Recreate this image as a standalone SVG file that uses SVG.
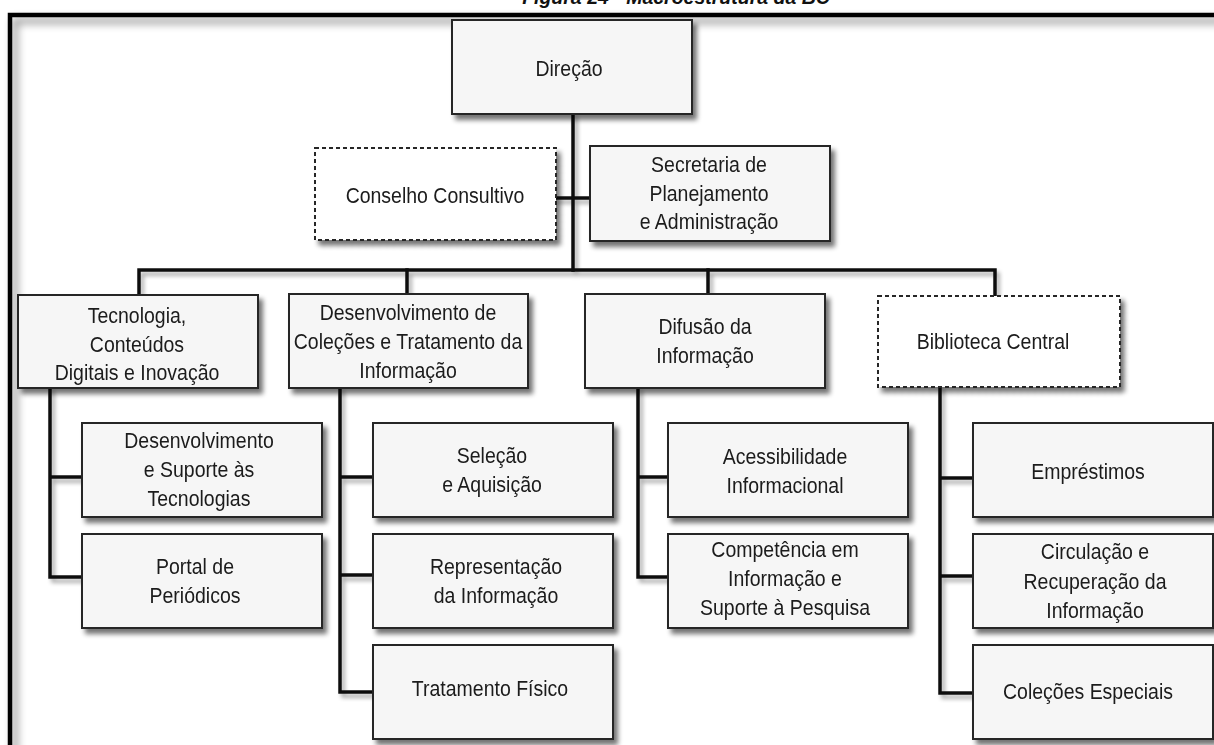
<svg xmlns="http://www.w3.org/2000/svg" width="1214" height="745" viewBox="0 0 1214 745">
  <defs>
    <filter id="shadow" x="-10%" y="-10%" width="130%" height="140%">
      <feGaussianBlur in="SourceAlpha" stdDeviation="2.5"/>
      <feOffset dx="4" dy="5" result="b"/>
      <feComponentTransfer><feFuncA type="linear" slope="0.55"/></feComponentTransfer>
      <feMerge><feMergeNode/><feMergeNode in="SourceGraphic"/></feMerge>
    </filter>
    <filter id="lineShadow" x="-5%" y="-5%" width="110%" height="110%">
      <feGaussianBlur in="SourceAlpha" stdDeviation="2"/>
      <feOffset dx="3" dy="4" result="b"/>
      <feComponentTransfer><feFuncA type="linear" slope="0.35"/></feComponentTransfer>
      <feMerge><feMergeNode/><feMergeNode in="SourceGraphic"/></feMerge>
    </filter>
    <filter id="frameShadow" x="-5%" y="-5%" width="110%" height="110%">
      <feGaussianBlur in="SourceAlpha" stdDeviation="4"/>
      <feOffset dx="5" dy="6" result="b"/>
      <feComponentTransfer><feFuncA type="linear" slope="0.5"/></feComponentTransfer>
      <feMerge><feMergeNode/><feMergeNode in="SourceGraphic"/></feMerge>
    </filter>
  </defs>
  <style>
    .box { fill: #f6f6f6; stroke: #262626; stroke-width: 2; }
    .dash { fill: #ffffff; stroke: #262626; stroke-width: 2; stroke-dasharray: 4 3; }
    .lbl { font-family: "Liberation Sans", Arial, sans-serif; font-size: 19.5px; fill: #1a1a1a; text-anchor: middle;
           transform-box: fill-box; transform-origin: center; transform: scaleY(1.12); }
    .conn { fill: none; stroke: #111; stroke-width: 3.5; stroke-linejoin: miter; stroke-linecap: square; }
    .title { font-family: "Liberation Sans", Arial, sans-serif; font-size: 19.5px; font-weight: bold; font-style: italic; fill: #111; text-anchor: middle; }
  </style>

  <rect width="1214" height="745" fill="#ffffff"/>

  <!-- caption, partly above the page edge -->
  <text class="title" x="676" y="4">Figura 24 - Macroestrutura da BC</text>

  <!-- outer frame -->
  <path d="M10,770 V15 H1240" fill="none" stroke="#000" stroke-width="4.5" filter="url(#frameShadow)"/>

  <!-- connectors -->
  <g id="connectors" class="conn" filter="url(#lineShadow)">
    <path d="M573,114 V270"/>
    <path d="M556,198 H590"/>
    <path d="M139,295 V270 H995 V296"/>
    <path d="M407,270 V293"/>
    <path d="M708,270 V293"/>
    <path d="M50,388 V577 H82 M50,477 H82"/>
    <path d="M340,388 V692 H373 M340,477 H373 M340,575 H373"/>
    <path d="M638,388 V577 H668 M638,477 H668"/>
    <path d="M940,387 V693 H973 M940,478 H973 M940,576 H973"/>
  </g>

  <!-- top level -->
  <g id="direcao" filter="url(#shadow)">
    <rect class="box" x="452" y="20" width="240" height="94"/>
    <text class="lbl" x="569" y="75">Direção</text>
  </g>
  <g id="conselho" filter="url(#shadow)">
    <rect class="dash" x="315" y="148" width="241" height="92"/>
    <text class="lbl" x="435" y="202">Conselho Consultivo</text>
  </g>
  <g id="secretaria" filter="url(#shadow)">
    <rect class="box" x="590" y="146" width="240" height="95"/>
    <text class="lbl" x="709" y="171">Secretaria de</text>
    <text class="lbl" x="709" y="200">Planejamento</text>
    <text class="lbl" x="709" y="228">e Administração</text>
  </g>

  <!-- departments -->
  <g id="tecnologia" filter="url(#shadow)">
    <rect class="box" x="18" y="295" width="240" height="93"/>
    <text class="lbl" x="137" y="322">Tecnologia,</text>
    <text class="lbl" x="137" y="351">Conteúdos</text>
    <text class="lbl" x="137" y="379">Digitais e Inovação</text>
  </g>
  <g id="desenvolvimento" filter="url(#shadow)">
    <rect class="box" x="289" y="294" width="239" height="94"/>
    <text class="lbl" x="408" y="319">Desenvolvimento de</text>
    <text class="lbl" x="408" y="348">Coleções e Tratamento da</text>
    <text class="lbl" x="408" y="377">Informação</text>
  </g>
  <g id="difusao" filter="url(#shadow)">
    <rect class="box" x="585" y="294" width="240" height="94"/>
    <text class="lbl" x="705" y="333">Difusão da</text>
    <text class="lbl" x="705" y="362">Informação</text>
  </g>
  <g id="biblioteca" filter="url(#shadow)">
    <rect class="dash" x="878" y="296" width="242" height="91"/>
    <text class="lbl" x="993" y="348">Biblioteca Central</text>
  </g>

  <!-- units: Tecnologia -->
  <g id="suporte" filter="url(#shadow)">
    <rect class="box" x="82" y="423" width="240" height="94"/>
    <text class="lbl" x="199" y="447">Desenvolvimento</text>
    <text class="lbl" x="199" y="476">e Suporte às</text>
    <text class="lbl" x="199" y="505">Tecnologias</text>
  </g>
  <g id="portal" filter="url(#shadow)">
    <rect class="box" x="82" y="534" width="240" height="94"/>
    <text class="lbl" x="195" y="573">Portal de</text>
    <text class="lbl" x="195" y="602">Periódicos</text>
  </g>

  <!-- units: Desenvolvimento de Coleções -->
  <g id="selecao" filter="url(#shadow)">
    <rect class="box" x="373" y="423" width="240" height="94"/>
    <text class="lbl" x="492" y="462">Seleção</text>
    <text class="lbl" x="492" y="491">e Aquisição</text>
  </g>
  <g id="representacao" filter="url(#shadow)">
    <rect class="box" x="373" y="534" width="240" height="94"/>
    <text class="lbl" x="496" y="573">Representação</text>
    <text class="lbl" x="496" y="602">da Informação</text>
  </g>
  <g id="tratamento" filter="url(#shadow)">
    <rect class="box" x="373" y="645" width="240" height="94"/>
    <text class="lbl" x="490" y="695">Tratamento Físico</text>
  </g>

  <!-- units: Difusão da Informação -->
  <g id="acessibilidade" filter="url(#shadow)">
    <rect class="box" x="668" y="423" width="240" height="94"/>
    <text class="lbl" x="785" y="463">Acessibilidade</text>
    <text class="lbl" x="785" y="492">Informacional</text>
  </g>
  <g id="competencia" filter="url(#shadow)">
    <rect class="box" x="668" y="534" width="240" height="94"/>
    <text class="lbl" x="785" y="556">Competência em</text>
    <text class="lbl" x="785" y="585">Informação e</text>
    <text class="lbl" x="785" y="614">Suporte à Pesquisa</text>
  </g>

  <!-- units: Biblioteca Central -->
  <g id="emprestimos" filter="url(#shadow)">
    <rect class="box" x="973" y="423" width="240" height="94"/>
    <text class="lbl" x="1088" y="478">Empréstimos</text>
  </g>
  <g id="circulacao" filter="url(#shadow)">
    <rect class="box" x="973" y="534" width="240" height="94"/>
    <text class="lbl" x="1095" y="558">Circulação e</text>
    <text class="lbl" x="1095" y="588">Recuperação da</text>
    <text class="lbl" x="1095" y="617">Informação</text>
  </g>
  <g id="colecoes" filter="url(#shadow)">
    <rect class="box" x="973" y="645" width="240" height="94"/>
    <text class="lbl" x="1088" y="698">Coleções Especiais</text>
  </g>
</svg>
